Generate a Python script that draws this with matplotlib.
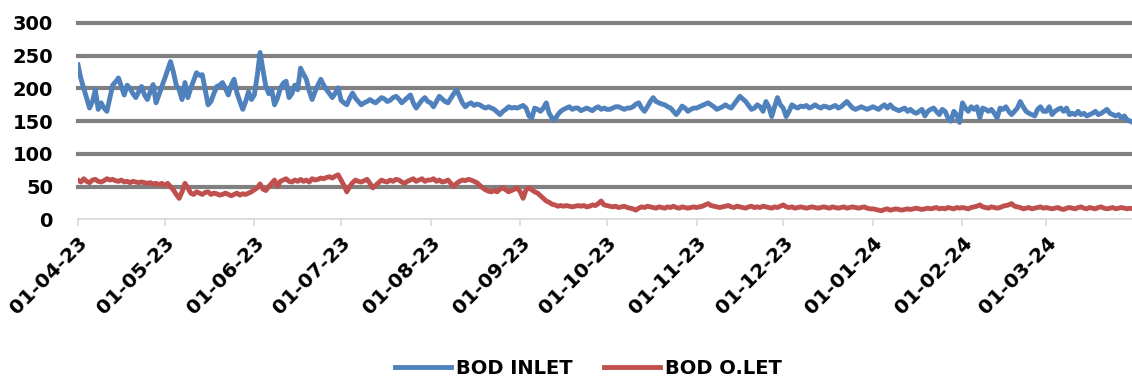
import pandas as pd
import matplotlib
matplotlib.use("Agg")
import matplotlib.pyplot as plt
import matplotlib.dates as mdates

# daily BOD values, Apr 2023 .. Mar 2024
inlet_apr = [236, 215, 200, 185, 170, 180, 198, 168, 178, 170, 165, 185, 205, 210, 216, 203, 190, 205, 200, 192, 186, 195, 203, 190, 183, 195, 206, 178, 190, 203]
inlet_may = [215, 228, 241, 225, 205, 198, 183, 209, 186, 200, 212, 224, 220, 221, 198, 175, 180, 192, 203, 205, 209, 200, 190, 205, 214, 193, 180, 168, 180, 195, 183]
inlet_jun = [190, 219, 255, 228, 203, 192, 198, 175, 185, 200, 208, 211, 186, 192, 205, 198, 231, 222, 214, 196, 183, 195, 205, 214, 205, 198, 192, 186, 193, 201]
inlet_jul = [182, 178, 175, 185, 193, 185, 180, 175, 178, 180, 183, 180, 178, 182, 186, 184, 180, 182, 186, 188, 184, 178, 182, 186, 190, 178, 170, 176, 182, 186, 180]
inlet_aug = [178, 172, 180, 188, 184, 180, 178, 185, 192, 198, 188, 178, 172, 176, 178, 174, 176, 175, 172, 170, 172, 170, 168, 164, 160, 165, 168, 172, 170, 171, 170]
inlet_sep = [172, 174, 170, 158, 155, 170, 168, 165, 170, 178, 162, 155, 152, 160, 165, 168, 170, 172, 168, 170, 170, 166, 168, 170, 168, 166, 170, 172, 168, 170]
inlet_oct = [168, 168, 170, 172, 172, 170, 168, 170, 170, 172, 176, 178, 170, 165, 172, 180, 186, 180, 178, 176, 175, 172, 170, 165, 160, 166, 173, 170, 165, 168, 170]
inlet_nov = [170, 172, 174, 176, 178, 175, 172, 168, 170, 172, 175, 172, 170, 176, 182, 188, 184, 180, 174, 168, 170, 175, 172, 165, 180, 172, 157, 172, 186, 175]
inlet_dec = [170, 157, 165, 175, 172, 170, 173, 172, 174, 170, 172, 175, 172, 170, 173, 172, 170, 172, 174, 170, 172, 176, 180, 175, 170, 168, 170, 172, 170, 168, 170]
inlet_jan = [172, 170, 168, 172, 175, 170, 175, 170, 168, 166, 168, 170, 165, 168, 164, 162, 165, 168, 158, 165, 168, 170, 165, 160, 168, 165, 155, 150, 165, 160, 148]
inlet_feb = [178, 170, 165, 172, 168, 172, 155, 170, 168, 165, 168, 162, 155, 170, 168, 172, 165, 160, 165, 170, 180, 172, 165, 162, 160, 158, 168, 172, 165]
inlet_mar = [165, 172, 160, 165, 168, 170, 165, 170, 160, 162, 160, 165, 160, 162, 158, 160, 162, 165, 160, 162, 165, 168, 162, 160, 158, 160, 155, 158, 152, 150, 148]

outlet_apr = [60, 57, 62, 58, 56, 60, 61, 58, 57, 59, 62, 60, 61, 59, 58, 60, 57, 58, 56, 58, 57, 56, 57, 56, 55, 56, 54, 55, 53, 55]
outlet_may = [52, 55, 50, 45, 38, 32, 42, 55, 48, 40, 38, 42, 40, 38, 41, 42, 38, 40, 39, 37, 38, 40, 38, 36, 38, 40, 37, 39, 38, 40, 42]
outlet_jun = [45, 48, 54, 46, 44, 50, 55, 60, 50, 58, 60, 62, 58, 57, 60, 58, 61, 58, 60, 57, 62, 60, 61, 63, 62, 64, 65, 63, 66, 68]
outlet_jul = [60, 52, 42, 50, 56, 60, 58, 57, 59, 61, 55, 48, 52, 56, 60, 58, 57, 60, 58, 61, 60, 57, 55, 58, 60, 62, 58, 60, 62, 58, 60]
outlet_aug = [60, 62, 58, 60, 57, 58, 60, 55, 50, 55, 58, 60, 59, 61, 60, 58, 56, 52, 48, 45, 43, 42, 44, 42, 46, 48, 45, 42, 44, 46, 48]
outlet_sep = [42, 32, 45, 48, 45, 42, 40, 36, 32, 28, 26, 23, 22, 20, 21, 20, 21, 20, 19, 20, 21, 20, 21, 19, 20, 22, 21, 24, 28, 22]
outlet_oct = [21, 20, 19, 20, 18, 19, 20, 18, 17, 16, 14, 17, 19, 18, 20, 19, 18, 17, 19, 18, 17, 19, 18, 20, 18, 17, 19, 18, 17, 18, 19]
outlet_nov = [18, 19, 20, 22, 24, 21, 20, 19, 18, 19, 20, 21, 19, 18, 20, 19, 18, 17, 19, 20, 18, 19, 18, 20, 19, 18, 17, 19, 18, 20]
outlet_dec = [22, 19, 18, 19, 17, 18, 19, 18, 17, 18, 19, 18, 17, 18, 19, 18, 17, 19, 18, 17, 18, 19, 17, 18, 19, 18, 17, 18, 19, 17, 16]
outlet_jan = [16, 15, 14, 13, 15, 16, 14, 15, 16, 15, 14, 15, 16, 15, 16, 17, 16, 15, 16, 17, 16, 17, 18, 16, 17, 16, 18, 17, 16, 18, 17]
outlet_feb = [18, 17, 16, 18, 19, 20, 22, 19, 18, 17, 19, 18, 17, 18, 20, 21, 22, 24, 20, 19, 18, 16, 17, 18, 16, 17, 18, 19, 17]
outlet_mar = [18, 17, 16, 17, 18, 16, 15, 17, 18, 17, 16, 18, 19, 17, 16, 18, 17, 16, 18, 19, 17, 16, 17, 18, 16, 17, 18, 17, 16, 17, 16]

inlet = (inlet_apr + inlet_may + inlet_jun + inlet_jul + inlet_aug + inlet_sep
         + inlet_oct + inlet_nov + inlet_dec + inlet_jan + inlet_feb + inlet_mar)
outlet = (outlet_apr + outlet_may + outlet_jun + outlet_jul + outlet_aug + outlet_sep
          + outlet_oct + outlet_nov + outlet_dec + outlet_jan + outlet_feb + outlet_mar)
dates = pd.date_range("2023-04-01", "2024-03-31", freq="D")

y_ticks = [0, 50, 100, 150, 200, 250, 300]

fig = plt.figure(figsize=(11.32, 3.81), dpi=100)
ax = fig.add_axes([78 / 1132, 1 - 219.3 / 381, 1055 / 1132, 196.3 / 381])

l1, = ax.plot(dates, inlet, color="#4F81BD", lw=3.5, solid_joinstyle="round", label="BOD INLET")
l2, = ax.plot(dates, outlet, color="#C0504D", lw=3.5, solid_joinstyle="round", label="BOD O.LET")

ax.set_ylim(0, 300)
ax.set_xlim(dates[0], dates[-1])
ax.set_yticks(y_ticks)
ax.yaxis.grid(True, color="#808080", lw=3.0)
ax.set_axisbelow(True)
for gl in ax.yaxis.get_gridlines():
    gl.set_clip_on(False)
ax.yaxis.get_gridlines()[0].set_visible(False)

for s in ["left", "top", "right"]:
    ax.spines[s].set_visible(False)
ax.spines["bottom"].set_color("#D9D9D9")
ax.spines["bottom"].set_linewidth(1.3)

ax.xaxis.set_major_locator(mdates.MonthLocator())
ax.xaxis.set_major_formatter(mdates.DateFormatter("%d-%m-%y"))
ax.tick_params(axis="y", length=0, pad=18, labelsize=14)
ax.tick_params(axis="x", length=5, width=1.2, color="#D9D9D9", pad=5, labelsize=14.5)
for lab in ax.get_yticklabels():
    lab.set_fontweight("bold")
for lab in ax.get_xticklabels():
    lab.set_fontweight("bold")
    lab.set_rotation(45)
    lab.set_ha("right")
    lab.set_va("top")
    lab.set_rotation_mode("anchor")

fig.legend(handles=[l1, l2], loc="center", bbox_to_anchor=(0.52, 0.034), ncol=2,
           frameon=False, prop={"weight": "bold", "size": 14},
           handlelength=2.9, handletextpad=0.25, columnspacing=1.6)

fig.savefig("out.png", dpi=100)
